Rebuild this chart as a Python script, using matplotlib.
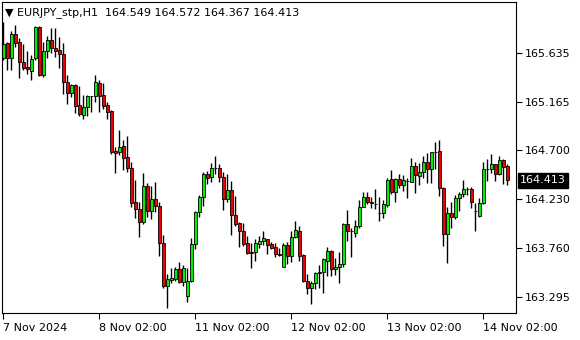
import matplotlib
matplotlib.use("Agg")
import matplotlib.pyplot as plt
import numpy as np

# EURJPY H1, bars (open, high, low, close)
opens = [165.590, 165.728, 165.590, 165.814, 165.737, 165.546, 165.500, 165.465, 165.584, 165.881,
         165.424, 165.654, 165.759, 165.680, 165.663, 165.622, 165.360, 165.248, 165.328, 165.136,
         165.040, 165.114, 165.222, 165.222, 165.344, 165.232, 165.136, 165.079, 164.695, 164.688,
         164.743, 164.635, 164.529, 164.203, 164.136, 164.011, 164.359, 164.122, 164.232, 164.170,
         163.816, 163.403, 163.458, 163.467, 163.560, 163.442, 163.304, 163.448, 163.800, 164.113,
         164.251, 164.471, 164.443, 164.529, 164.529, 164.448, 164.232, 164.321, 164.081, 164.007,
         163.931, 163.810, 163.723, 163.723, 163.803, 163.835, 163.848, 163.803, 163.771, 163.704,
         163.585, 163.793, 163.688, 163.873, 163.928, 163.698, 163.451, 163.378, 163.432, 163.532,
         163.532, 163.643, 163.739, 163.560, 163.585, 163.608, 163.992, 163.928, 163.911, 163.979,
         164.161, 164.257, 164.209, 164.187, 164.103, 164.103, 164.177, 164.424, 164.305, 164.424,
         164.369, 164.410, 164.400, 164.551, 164.458, 164.491, 164.592, 164.519, 164.688, 164.698,
         164.337, 163.896, 164.103, 164.065, 164.241, 164.280, 164.330, 164.330, 164.120, 164.072,
         164.199, 164.522, 164.522, 164.567, 164.474, 164.609, 164.549]
highs = [165.932, 165.737, 165.846, 165.903, 165.776, 165.718, 165.654, 165.616, 165.894, 165.897,
         165.737, 165.801, 165.872, 165.872, 165.791, 165.728, 165.424, 165.335, 165.335, 165.321,
         165.232, 165.232, 165.226, 165.424, 165.376, 165.344, 165.162, 165.088, 164.736, 164.896,
         164.800, 164.839, 164.592, 164.417, 164.203, 164.481, 164.385, 164.359, 164.395, 164.209,
         163.889, 163.512, 163.570, 163.580, 163.628, 163.602, 163.570, 163.863, 164.120, 164.273,
         164.496, 164.503, 164.583, 164.647, 164.567, 164.491, 164.471, 164.407, 164.263, 164.011,
         164.007, 163.880, 163.810, 163.851, 163.883, 163.928, 163.851, 163.825, 163.810, 163.762,
         163.810, 163.825, 163.928, 164.024, 163.979, 163.704, 163.512, 163.448, 163.537, 163.602,
         163.672, 163.771, 163.746, 163.666, 163.723, 164.002, 164.129, 163.954, 164.033, 164.225,
         164.305, 164.305, 164.257, 164.330, 164.251, 164.225, 164.439, 164.513, 164.433, 164.471,
         164.465, 164.439, 164.625, 164.592, 164.577, 164.647, 164.673, 164.688, 164.784, 164.800,
         164.347, 164.161, 164.203, 164.273, 164.305, 164.417, 164.353, 164.353, 164.193, 164.241,
         164.592, 164.618, 164.663, 164.570, 164.650, 164.618, 164.572]
lows = [165.568, 165.472, 165.472, 165.695, 165.392, 165.472, 165.430, 165.376, 165.568, 165.414,
        165.407, 165.584, 165.632, 165.599, 165.494, 165.242, 165.143, 165.216, 165.062, 165.033,
        164.999, 165.033, 165.072, 165.168, 165.072, 165.098, 164.999, 164.663, 164.487, 164.657,
        164.513, 164.496, 164.161, 164.055, 163.873, 163.992, 164.065, 164.040, 164.113, 163.691,
        163.384, 163.192, 163.432, 163.451, 163.426, 163.403, 163.244, 163.442, 163.752, 164.065,
        164.170, 164.376, 164.400, 164.474, 164.400, 164.129, 164.203, 163.889, 163.976, 163.777,
        163.787, 163.707, 163.570, 163.643, 163.762, 163.793, 163.704, 163.755, 163.681, 163.691,
        163.580, 163.608, 163.628, 163.858, 163.640, 163.442, 163.321, 163.225, 163.369, 163.384,
        163.330, 163.499, 163.499, 163.506, 163.426, 163.580, 163.835, 163.681, 163.873, 163.954,
        164.155, 164.184, 164.145, 164.139, 164.027, 164.050, 164.161, 164.280, 164.209, 164.343,
        164.314, 164.247, 164.395, 164.295, 164.369, 164.439, 164.385, 164.391, 164.519, 164.266,
        163.787, 163.618, 163.954, 164.043, 164.122, 164.257, 164.273, 164.151, 163.928, 164.059,
        164.187, 164.410, 164.481, 164.410, 164.465, 164.376, 164.367]
closes = [165.718, 165.590, 165.814, 165.728, 165.546, 165.494, 165.478, 165.574, 165.881, 165.424,
          165.654, 165.759, 165.680, 165.657, 165.622, 165.360, 165.248, 165.328, 165.129, 165.047,
          165.114, 165.222, 165.220, 165.354, 165.225, 165.129, 165.072, 164.688, 164.679, 164.736,
          164.631, 164.529, 164.199, 164.136, 164.011, 164.359, 164.122, 164.232, 164.167, 163.816,
          163.403, 163.465, 163.474, 163.560, 163.442, 163.570, 163.448, 163.800, 164.113, 164.251,
          164.471, 164.439, 164.529, 164.527, 164.448, 164.232, 164.321, 164.081, 163.995, 163.931,
          163.800, 163.719, 163.721, 163.810, 163.835, 163.858, 163.793, 163.768, 163.704, 163.702,
          163.793, 163.688, 163.867, 163.937, 163.691, 163.451, 163.378, 163.432, 163.528, 163.525,
          163.656, 163.739, 163.560, 163.585, 163.608, 163.992, 163.931, 163.928, 163.979, 164.161,
          164.257, 164.209, 164.193, 164.187, 164.103, 164.184, 164.417, 164.305, 164.424, 164.369,
          164.417, 164.410, 164.551, 164.465, 164.491, 164.592, 164.519, 164.683, 164.688, 164.337,
          163.896, 164.097, 164.065, 164.241, 164.280, 164.330, 164.328, 164.203, 164.120, 164.199,
          164.522, 164.522, 164.567, 164.474, 164.609, 164.544, 164.413]

price_ticks = [165.635, 165.165, 164.700, 164.230, 163.760, 163.295]
date_ticks = [0, 24, 48, 72, 96, 120]
date_labels = ["7 Nov 2024", "8 Nov 02:00", "11 Nov 02:00", "12 Nov 02:00", "13 Nov 02:00", "14 Nov 02:00"]
title = "EURJPY_stp,H1  164.549 164.572 164.367 164.413"

o = np.array(opens)
h = np.array(highs)
l = np.array(lows)
c = np.array(closes)
x = np.arange(len(o))

W, H = 580, 340
fig = plt.figure(figsize=(W / 100, H / 100), dpi=100)
ax = fig.add_axes([2 / W, 27 / H, 514 / W, 311 / H])

up = c >= o
ax.vlines(x, l, h, color="black", linewidth=1.0, zorder=1)
body_lo = np.minimum(o, c)
body_h = np.abs(c - o)
ax.bar(x[up], body_h[up], bottom=body_lo[up], width=0.78, color="#00f000",
       edgecolor="black", linewidth=0.6, zorder=2)
ax.bar(x[~up], body_h[~up], bottom=body_lo[~up], width=0.78, color="#f00000",
       edgecolor="black", linewidth=0.6, zorder=2)

ax.set_xlim(-0.33, 128.17)
ax.set_ylim(163.141, 166.124)

for s in ax.spines.values():
    s.set_color("black")
    s.set_linewidth(0.8)

ax.yaxis.tick_right()
ax.set_yticks(price_ticks)
ax.set_yticklabels(["%.3f" % p for p in price_ticks])
ax.tick_params(axis="y", direction="out", length=4, width=0.8, pad=2, labelsize=8)

ax.set_xticks(date_ticks)
ax.set_xticklabels(date_labels, ha="left")
ax.tick_params(axis="x", direction="out", length=4, width=0.8, pad=3, labelsize=8)

ax.text(0.006, 0.965, "\u25bc " + title, transform=ax.transAxes, fontsize=8,
        va="center", ha="left")

# last price tag
last = c[-1]
ax.annotate("%.3f" % last, xy=(1, last), xycoords=("axes fraction", "data"),
            xytext=(3, 0), textcoords="offset points", va="center", ha="left",
            fontsize=8, color="white",
            bbox=dict(boxstyle="square,pad=0.2", fc="black", ec="black"),
            annotation_clip=False)

fig.savefig("out.png", dpi=100)
